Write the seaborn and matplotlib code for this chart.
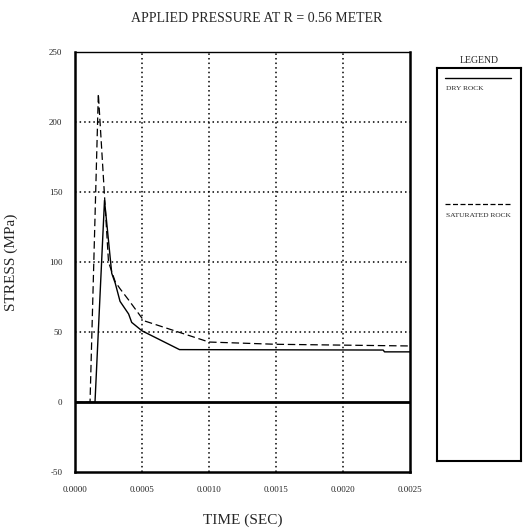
import numpy as np
import pandas as pd
import matplotlib
matplotlib.use('Agg')
import matplotlib.pyplot as plt
import seaborn as sns

# Values
dry_time = [0.0, 0.000149, 0.00022, 0.000274, 0.0003, 0.000336, 0.0004,
            0.000423, 0.0005, 0.00078, 0.0023, 0.00231, 0.0025]
dry_stress = [0, 0, 144, 92, 85, 72, 63, 57, 51, 37.6, 37.3, 36, 36]

sat_time = [0.0, 0.000112, 0.000174, 0.00025, 0.0003, 0.000336, 0.0004,
            0.0005, 0.00052, 0.001, 0.0015, 0.002, 0.0025]
sat_stress = [0, 0, 220, 100, 86, 81, 73, 60, 58, 43, 41.4, 40.8, 40.2]

x_ticks = [0.0, 0.0005, 0.0010, 0.0015, 0.0020, 0.0025]
y_ticks = [-50, 0, 50, 100, 150, 200, 250]
series_labels = ['DRY ROCK', 'SATURATED ROCK']

sns.set_style('white')
plt.rcParams['font.family'] = ['Liberation Serif', 'DejaVu Serif']

fig = plt.figure(figsize=(5.25, 5.3), dpi=100)
ax = fig.add_axes([0.1429, 0.1085, 0.638, 0.794])

dry = pd.DataFrame({'time': dry_time, 'stress': dry_stress})
sat = pd.DataFrame({'time': sat_time, 'stress': sat_stress})

sns.lineplot(data=dry, x='time', y='stress', ax=ax, color='black',
             linewidth=1.0, estimator=None, sort=False)
sns.lineplot(data=sat, x='time', y='stress', ax=ax, color='black',
             linewidth=0.9, estimator=None, sort=False, linestyle=(0, (6, 3)))

ax.set_xlim(0, 0.0025)
ax.set_ylim(-50, 250)
ax.set_xticks(x_ticks)
ax.set_xticklabels([f'{v:.4f}' for v in x_ticks])
ax.set_yticks(y_ticks)
ax.set_yticklabels([str(v) for v in y_ticks])
ax.tick_params(axis='both', length=0, labelsize=6.5)
ax.tick_params(axis='x', pad=10)
ax.tick_params(axis='y', pad=9)

# dotted grid, thick zero line
for xv in x_ticks[1:-1]:
    ax.axvline(xv, color='black', linewidth=1.1, linestyle=(0, (1, 2)), zorder=0)
for yv in [50, 100, 150, 200]:
    ax.axhline(yv, color='black', linewidth=1.1, linestyle=(0, (1, 2)), zorder=0)
ax.axhline(0, color='black', linewidth=2.0, zorder=3)

for side in ['left', 'bottom', 'right']:
    ax.spines[side].set_linewidth(1.8)
    ax.spines[side].set_color('black')
ax.spines['top'].set_linewidth(1.0)
ax.spines['top'].set_color('black')

ax.set_xlabel('TIME (SEC)', fontsize=11, labelpad=14)
ax.set_ylabel('STRESS (MPa)', fontsize=11, labelpad=22)

fig.text(0.488, 0.966, 'APPLIED PRESSURE AT R = 0.56 METER', ha='center',
         va='center', fontsize=10)

# legend box
lax = fig.add_axes([0.8318, 0.130, 0.16, 0.7425])
lax.set_xlim(0, 1)
lax.set_ylim(0, 1)
lax.set_xticks([])
lax.set_yticks([])
for side in lax.spines:
    lax.spines[side].set_linewidth(1.5)
    lax.spines[side].set_color('black')
lax.set_title('LEGEND', fontsize=7, pad=3)
lax.plot([0.095, 0.89], [0.974, 0.974], color='black', linewidth=1.0)
lax.text(0.107, 0.946, series_labels[0], fontsize=5.4, va='center', ha='left')
lax.plot([0.095, 0.89], [0.653, 0.653], color='black', linewidth=0.9,
         linestyle=(0, (4, 2)))
lax.text(0.107, 0.625, series_labels[1], fontsize=5.4, va='center', ha='left')

fig.savefig('out.png', dpi=100)
